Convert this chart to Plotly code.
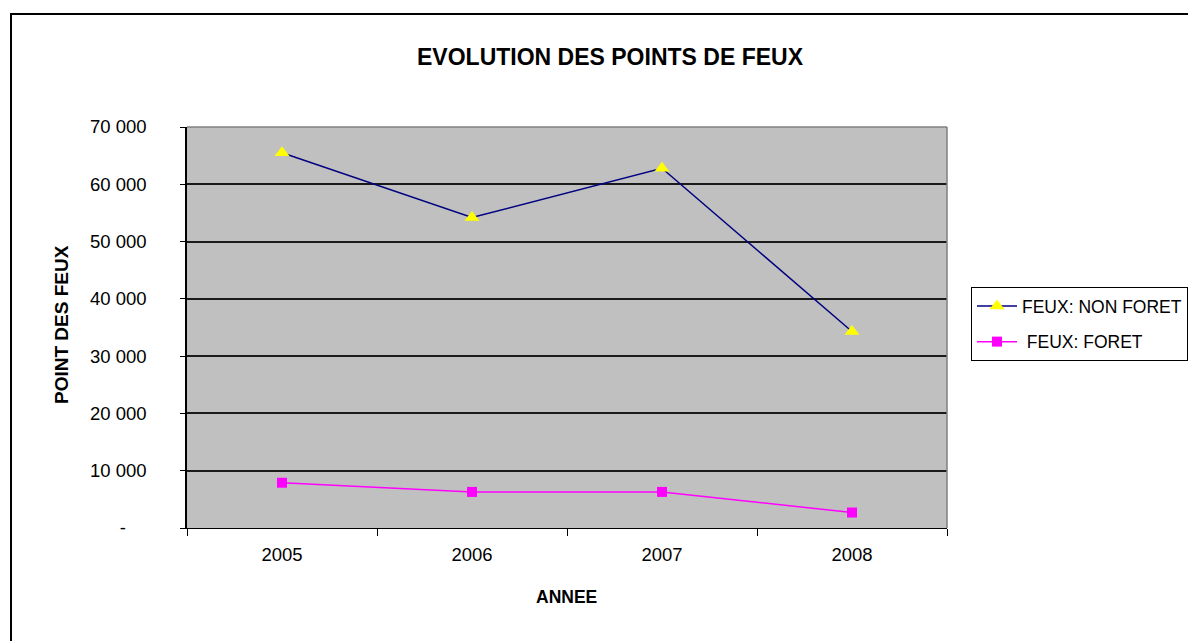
import plotly.graph_objects as go

years = ["2005", "2006", "2007", "2008"]
non_foret = [65500, 54200, 62800, 34300]
foret = [7900, 6300, 6300, 2700]
ytick_vals = [0, 10000, 20000, 30000, 40000, 50000, 60000, 70000]
ytick_text = ["-\u00a0\u00a0\u00a0\u00a0", "10 000", "20 000", "30 000", "40 000", "50 000", "60 000", "70 000"]

W, H = 1196, 641
OFF = 8  # page body margin
L, R, T, B = 187 - OFF, 1196 - (947 - OFF), 127 - OFF, 641 - (528 - OFF)
pw, ph = W - L - R, H - T - B

def px(x):
    return (x - OFF - L) / pw

def py(y):
    return (H - B - (y - OFF)) / ph

font = "Arial, Liberation Sans, sans-serif"

fig = go.Figure()
fig.add_trace(go.Scatter(
    x=years, y=non_foret, name="FEUX: NON FORET", mode="lines+markers",
    line=dict(color="#000080", width=1.5),
    marker=dict(symbol="triangle-up", color="#FFFF00", size=13, line=dict(width=0)),
    legendgroup="a",
))
fig.add_trace(go.Scatter(
    x=years, y=foret, name="\u00a0FEUX: FORET", mode="lines+markers",
    line=dict(color="#FF00FF", width=1.5),
    marker=dict(symbol="square", color="#FF00FF", size=10, line=dict(width=0)),
    legendgroup="b",
))

fig.update_layout(
    width=W, height=H,
    margin=dict(l=L, r=R, t=T, b=B, autoexpand=False),
    paper_bgcolor="white",
    plot_bgcolor="#C0C0C0",
    font=dict(family=font, size=18, color="black"),
    title=dict(text="<b>EVOLUTION DES POINTS DE FEUX</b>", xref="container", yref="container",
               x=(610 - OFF) / W, y=1 - (57 - OFF) / H, xanchor="center", yanchor="middle",
               font=dict(size=23, family=font, color="black")),
    showlegend=True,
    legend=dict(x=px(971), y=py(287), xanchor="left", yanchor="top",
                bordercolor="black", borderwidth=1, bgcolor="white",
                font=dict(size=17.5, family=font), tracegroupgap=10,
                itemwidth=40),
    xaxis=dict(type="category", range=[-0.5, 3.5], tickson="boundaries",
               ticks="outside", ticklen=7, tickcolor="black", tickwidth=1,
               showline=True, linecolor="black", linewidth=1, showgrid=False,
               tickfont=dict(size=18.5), ticklabelstandoff=10, fixedrange=True),
    yaxis=dict(range=[0, 70000], tickvals=ytick_vals, ticktext=ytick_text,
               ticks="outside", ticklen=5, tickcolor="black", tickwidth=1,
               showline=True, linecolor="black", linewidth=1.5,
               showgrid=True, gridcolor="#1a1a1a", gridwidth=1.5, zeroline=False,
               tickfont=dict(size=18.5), ticklabelstandoff=30),
    shapes=[
        dict(type="rect", xref="paper", yref="paper", x0=px(11), x1=1.6, y0=-0.6, y1=py(14),
             line=dict(color="black", width=2), layer="below", fillcolor="rgba(0,0,0,0)"),
        dict(type="line", xref="paper", yref="paper", x0=0, x1=1, y0=1, y1=1,
             line=dict(color="#808080", width=1.5)),
        dict(type="line", xref="paper", yref="paper", x0=1, x1=1, y0=0, y1=1,
             line=dict(color="#808080", width=1.5)),
    ],
    annotations=[
        dict(text="<b>POINT DES FEUX</b>", xref="paper", yref="paper", x=px(61), y=py(325),
             xanchor="center", yanchor="middle", textangle=-90, showarrow=False,
             font=dict(size=19, family=font)),
        dict(text="<b>ANNEE</b>", xref="paper", yref="paper", x=px(566), y=py(597),
             xanchor="center", yanchor="middle", showarrow=False,
             font=dict(size=17.5, family=font)),
    ],
)

fig.write_html("out.html")
